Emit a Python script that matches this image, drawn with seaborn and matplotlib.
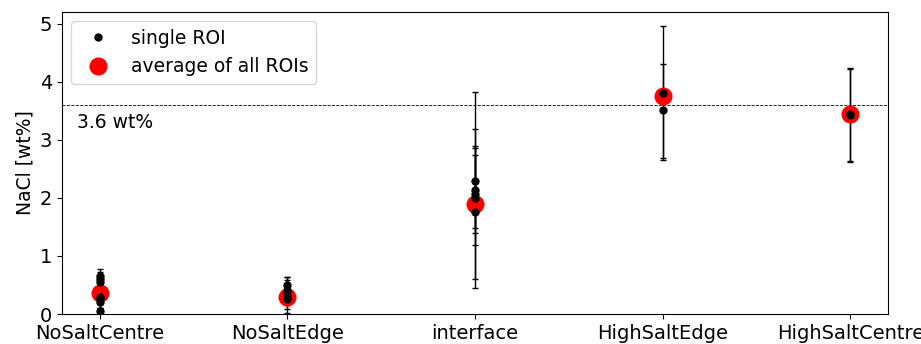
import numpy as np
import pandas as pd
import matplotlib
matplotlib.use("Agg")
import matplotlib.pyplot as plt
import seaborn as sns
from matplotlib.lines import Line2D

categories = ["NoSaltCentre", "NoSaltEdge", "interface", "HighSaltEdge", "HighSaltCentre"]

# single ROI values, with lower/upper error lengths
roi_cat = (["NoSaltCentre"] * 7 + ["NoSaltEdge"] * 6 + ["interface"] * 5
           + ["HighSaltEdge"] * 2 + ["HighSaltCentre"] * 2)
roi_val = [0.65, 0.60, 0.55, 0.30, 0.25, 0.20, 0.05,
           0.50, 0.42, 0.38, 0.33, 0.28, 0.25,
           2.29, 2.14, 2.06, 1.99, 1.75,
           3.81, 3.51,
           3.44, 3.43]
roi_err_lo = [0.10, 0.12, 0.10, 0.12, 0.15, 0.12, 0.05,
              0.12, 0.15, 0.14, 0.18, 0.20, 0.23,
              0.81, 1.69, 0.87, 0.59, 1.15,
              1.15, 0.83,
              0.81, 0.82]
roi_err_hi = [0.13, 0.12, 0.10, 0.12, 0.15, 0.12, 0.05,
              0.14, 0.22, 0.21, 0.18, 0.20, 0.23,
              0.89, 1.69, 0.80, 0.75, 1.15,
              1.15, 0.80,
              0.78, 0.80]

avg_val = [0.37, 0.30, 1.90, 3.75, 3.45]

ref_level = 3.6
ref_label = "3.6 wt%"

sns.set_style("ticks")
plt.rcParams["font.family"] = ["DejaVu Sans"]
plt.rcParams["text.color"] = "black"
plt.rcParams["axes.labelcolor"] = "black"
plt.rcParams["xtick.color"] = "black"
plt.rcParams["ytick.color"] = "black"
plt.rcParams["axes.edgecolor"] = "black"

fig = plt.figure(figsize=(9.21, 3.44), dpi=100)
ax = fig.add_axes([0.0673, 0.0872, 0.8967, 0.878])

roi_df = pd.DataFrame({"cat": roi_cat, "val": roi_val})
avg_df = pd.DataFrame({"cat": categories, "val": avg_val})

pos = {c: i for i, c in enumerate(categories)}
xs = [pos[c] for c in roi_cat]
ax.errorbar(xs, roi_val, yerr=[roi_err_lo, roi_err_hi], fmt="none",
            ecolor="black", elinewidth=1, capsize=2, capthick=1, zorder=1)

sns.stripplot(data=avg_df, x="cat", y="val", order=categories, jitter=False,
              color="red", s=13, linewidth=0, ax=ax, zorder=2)
sns.stripplot(data=roi_df, x="cat", y="val", order=categories, jitter=False,
              color="black", s=6, linewidth=0, ax=ax, zorder=3)

ax.axhline(ref_level, color="black", linestyle="--", linewidth=0.6, zorder=0)
ax.text(-0.12, 3.3, ref_label, fontsize=13.5, va="center", ha="left", color="black")

ax.set_xlim(-0.2, 4.2)
ax.set_ylim(0, 5.2)
ax.set_yticks([0, 1, 2, 3, 4, 5])
ax.set_xlabel("")
ax.set_ylabel("NaCl [wt%]", fontsize=13.5, color="black")
ax.tick_params(axis="both", labelsize=14, colors="black")
for s in ax.spines.values():
    s.set_color("black")

handles = [Line2D([], [], marker="o", color="black", linestyle="none", markersize=5),
           Line2D([], [], marker="o", color="red", linestyle="none", markersize=12)]
leg = ax.legend(handles, ["single ROI", "average of all ROIs"], loc="upper left",
                fontsize=13.5, frameon=True)
for t in leg.get_texts():
    t.set_color("black")

fig.savefig("out.png", dpi=100)
